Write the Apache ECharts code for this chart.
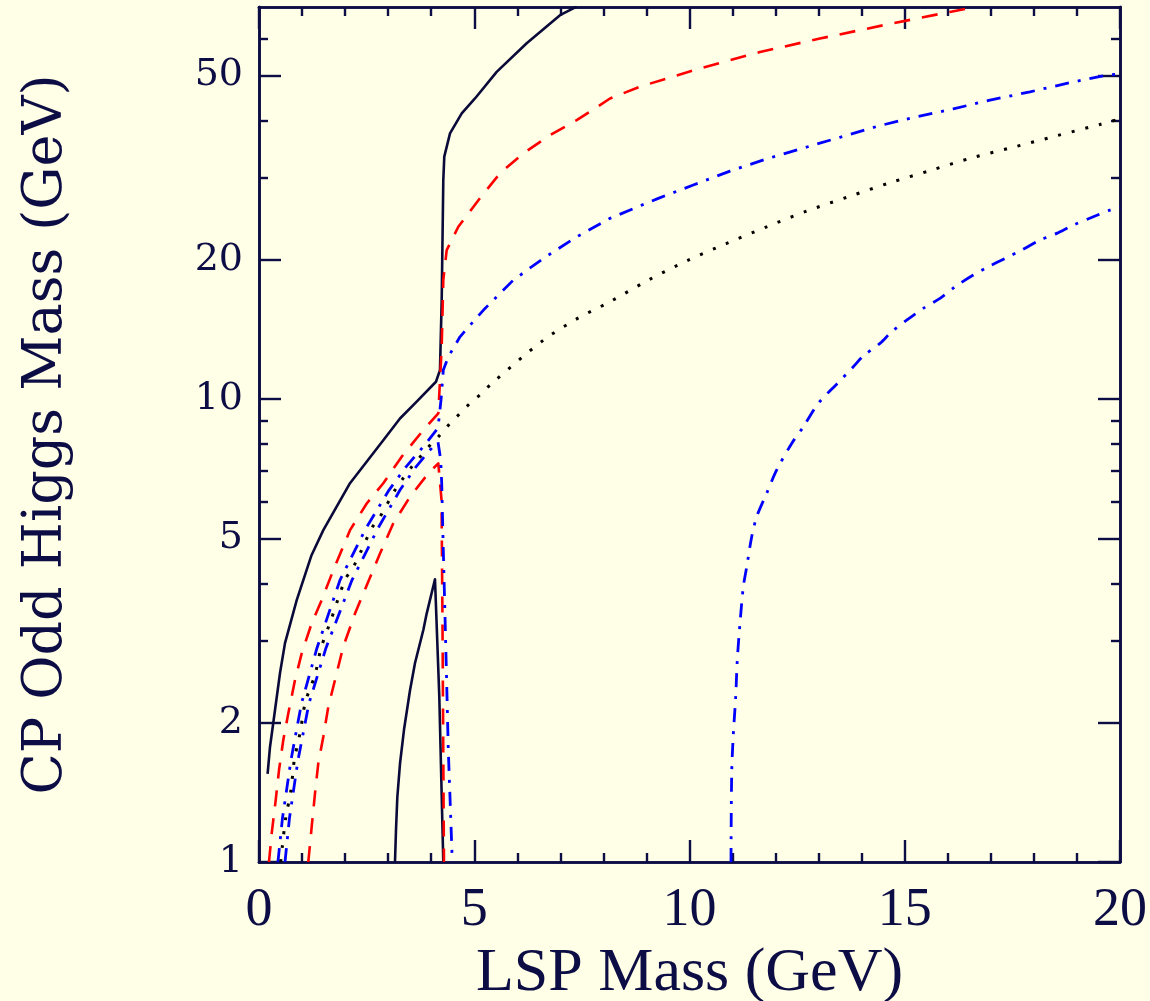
<!DOCTYPE html>
<html>
<head>
<meta charset="utf-8">
<script src="https://cdn.jsdelivr.net/npm/echarts@6/dist/echarts.min.js"></script>
<style>
html,body{margin:0;padding:0;background:#fffee6;}
#c{width:1150px;height:1001px;}
</style>
</head>
<body>
<div id="c"></div>
<script>
// ---- axis ticks ----
var xMajorTicks = [0, 5, 10, 15, 20];
var xMinorTicks = [1, 2, 3, 4, 6, 7, 8, 9, 11, 12, 13, 14, 16, 17, 18, 19];
var yMajorTicks = [1, 2, 5, 10, 20, 50];
var yMinorTicks = [3, 4, 6, 7, 8, 9, 30, 40, 60];

// ---- curves: [LSP mass, CP odd Higgs mass] ----
var solidUpper = [[0.2,1.55],[0.255,1.77],[0.372,2.13],[0.488,2.56],[0.604,2.97],[0.876,3.68],[1.22,4.6],[1.494,5.21],[2.114,6.58],[2.887,8.15],[3.275,9.08],[3.663,9.87],[4.111,10.9],[4.204,11.55],[4.244,16.4],[4.281,29.7],[4.304,33.4],[4.437,37.5],[4.709,41.4],[5.017,44.6],[5.521,50.9],[6.218,58.7],[6.992,67.5],[7.38,70.4]];
var solidLower = [[3.159,1.0],[3.182,1.17],[3.213,1.38],[3.275,1.63],[3.368,1.93],[3.508,2.35],[3.624,2.69],[3.817,3.17],[3.895,3.44],[4.088,4.08],[4.188,2.28],[4.281,1.0]];
var redUpper = [[0.232,1.0],[0.295,1.153],[0.388,1.361],[0.465,1.58],[0.564,1.834],[0.681,2.096],[0.836,2.472],[0.992,2.823],[1.224,3.279],[1.456,3.68],[1.726,4.27],[2.114,5.21],[2.502,5.95],[2.887,6.58],[3.315,7.51],[3.817,8.57],[4.165,9.31],[4.244,12.97],[4.281,18.07],[4.36,20.98],[4.63,23.56],[5.134,27.18],[5.598,30.73],[6.139,33.95],[6.76,37.17],[7.38,40.05],[7.921,43.15],[8.153,44.6],[8.85,47.3],[10.244,51.8],[11.638,56.2],[13.03,60.1],[14.5,64.2],[16.05,68.6],[16.63,70.3]];
var redLower = [[1.145,1.0],[1.224,1.192],[1.301,1.407],[1.377,1.634],[1.494,1.865],[1.61,2.165],[1.765,2.472],[1.958,2.92],[2.23,3.44],[2.423,3.80],[2.811,4.64],[3.12,5.39],[3.508,6.15],[3.933,6.91],[4.165,7.26],[4.24,6.05],[4.262,3.33],[4.28,1.746],[4.297,1.0]];
var blueUpper = [[0.44,1.0],[0.546,1.245],[0.743,1.661],[0.987,2.202],[1.347,2.9],[1.882,4.065],[2.485,5.26],[3.02,6.36],[3.415,7.14],[3.879,8.02],[4.158,8.66],[4.228,9.96],[4.281,11.55],[4.397,12.34],[4.669,13.63],[4.941,14.57],[5.25,15.7],[5.559,16.77],[5.907,18.07],[6.604,20.13],[7.38,22.41],[8.153,24.57],[9.275,27.14],[10.088,29.0],[10.941,31.08],[11.793,33.03],[12.643,34.85],[13.496,36.77],[14.386,38.9],[15.238,40.64],[16.128,42.35],[16.98,44.24],[17.91,46.1],[18.762,48.08],[19.69,50.1],[20,50.35]];
var blueLower = [[0.604,1.0],[0.708,1.245],[0.906,1.661],[1.161,2.202],[1.556,2.9],[2.16,4.065],[2.764,5.26],[3.275,6.36],[3.647,7.14],[3.972,7.76],[4.158,8.08],[4.221,7.38],[4.244,6.58],[4.281,4.72],[4.321,3.39],[4.36,2.43],[4.397,1.746],[4.453,1.253],[4.49,1.0]];
var blueRight = [[10.964,1.0],[10.98,1.554],[11.017,1.881],[11.073,2.275],[11.11,2.731],[11.173,3.279],[11.25,3.93],[11.329,4.34],[11.445,5.04],[11.561,5.57],[11.793,6.26],[12.026,7.03],[12.374,8.02],[12.643,8.71],[12.992,9.79],[13.419,10.77],[13.805,11.74],[14.037,12.39],[14.425,13.19],[14.697,13.98],[15.045,14.81],[15.431,15.7],[15.819,16.5],[16.167,17.48],[16.592,18.53],[16.94,19.31],[17.329,20.13],[17.716,20.98],[18.142,22.05],[18.53,22.8],[18.915,23.76],[19.38,24.76],[19.768,25.6],[20,25.94]];
var dottedBlack = [[0.504,1.0],[0.541,1.079],[0.62,1.243],[0.743,1.431],[0.82,1.661],[0.952,1.897],[1.069,2.202],[1.185,2.372],[1.301,2.534],[1.44,2.894],[1.672,3.332],[1.998,4.065],[2.19,4.34],[2.346,4.64],[2.618,5.26],[2.811,5.57],[3.159,6.36],[3.315,6.68],[3.547,7.14],[3.779,7.57],[4.012,8.02],[4.204,8.36],[4.437,8.86],[4.669,9.31],[4.901,9.79],[5.173,10.29],[5.405,10.81],[6.604,13.4],[7.38,14.9],[8.153,16.23],[9.043,18.07],[9.935,19.89],[10.864,21.69],[11.793,23.56],[12.722,25.47],[13.689,27.35],[14.657,29.33],[15.626,31.24],[16.592,33.27],[17.561,35.08],[18.53,37.05],[19.535,39.2],[20,40.3]];

var INK = '#0d0d45';
var Y_MIN = 1, Y_MAX = 70.3;
var GRID = {left: 259, top: 7, right: 30, bottom: 139, containLabel: false, outerBoundsMode: 'none'};

function xAx(pos, ticks, len, showLabel, name, gridIndex) {
  return {
    gridIndex: gridIndex || 0,
    type: 'value', position: pos, min: 0, max: 20,
    axisLine: {show: true, onZero: false, lineStyle: {color: INK, width: 2.6}},
    axisTick: {show: true, inside: true, length: len, customValues: ticks, lineStyle: {color: INK, width: 2.4}},
    axisLabel: {show: showLabel, customValues: xMajorTicks, margin: 22, color: INK,
      fontFamily: 'Liberation Serif', fontSize: 54},
    splitLine: {show: false},
    name: name || '', nameLocation: 'middle', nameGap: 79,
    nameTextStyle: {color: INK, fontFamily: 'Liberation Serif', fontSize: 62}
  };
}
function yAx(pos, ticks, len, showLabel, name, gridIndex) {
  return {
    gridIndex: gridIndex || 0,
    type: 'log', logBase: 10, position: pos, min: Y_MIN, max: Y_MAX,
    axisLine: {show: true, onZero: false, lineStyle: {color: INK, width: 2.6}},
    axisTick: {show: true, inside: true, length: len, customValues: ticks, lineStyle: {color: INK, width: 2.4}},
    axisLabel: {show: showLabel, customValues: yMajorTicks, margin: 16, color: INK,
      fontFamily: 'DejaVu Serif', fontSize: 38},
    splitLine: {show: false},
    minorTick: {show: false},
    name: name || '', nameLocation: 'middle', nameGap: 185, nameRotate: 90,
    nameTextStyle: {color: INK, fontFamily: 'DejaVu Serif', fontSize: 54}
  };
}

function line(data, color, width, dash, smooth) {
  return {
    type: 'line', data: data, xAxisIndex: 0, yAxisIndex: 0,
    showSymbol: false, symbol: 'none', smooth: smooth || false,
    clip: true, animation: false,
    lineStyle: {color: color, width: width, type: dash || 'solid', cap: 'butt', join: 'round'}
  };
}

// label-only y axis in a twin grid (same geometry)
var yLabelAxis = yAx('left', yMajorTicks, 22, true, 'CP Odd Higgs Mass (GeV)', 1);
yLabelAxis.axisLine.show = false;
yLabelAxis.axisTick.show = false;
var xHidden = xAx('bottom', xMajorTicks, 22, false, '', 1);
xHidden.show = false;

var chart = echarts.init(document.getElementById('c'), null, {renderer: 'canvas'});
chart.setOption({
  backgroundColor: '#fffee6',
  animation: false,
  grid: [GRID, Object.assign({}, GRID)],
  xAxis: [
    xAx('bottom', xMajorTicks, 22, true, 'LSP Mass (GeV)'),
    xAx('bottom', xMinorTicks, 9, false),
    xAx('top', xMajorTicks, 22, false),
    xAx('top', xMinorTicks, 9, false),
    xHidden
  ],
  yAxis: [
    yAx('left', yMajorTicks, 22, false),
    yAx('left', yMinorTicks, 9, false),
    yAx('right', yMajorTicks, 22, false),
    yAx('right', yMinorTicks, 9, false),
    yLabelAxis
  ],
  series: [
    line(solidUpper, '#0a0a3a', 2.6),
    line(solidLower, '#0a0a3a', 2.6),
    line(redUpper, '#ff0000', 2.6, [16, 12]),
    line(redLower, '#ff0000', 2.6, [16, 12]),
    line(blueUpper, '#0000ff', 2.8, [14, 9, 3, 9]),
    line(blueLower, '#0000ff', 2.8, [14, 9, 3, 9]),
    line(blueRight, '#0000ff', 2.8, [14, 9, 3, 9], 0.3),
    line(dottedBlack, '#000000', 3, [3, 11], 0.3)
  ]
});
</script>
</body>
</html>
